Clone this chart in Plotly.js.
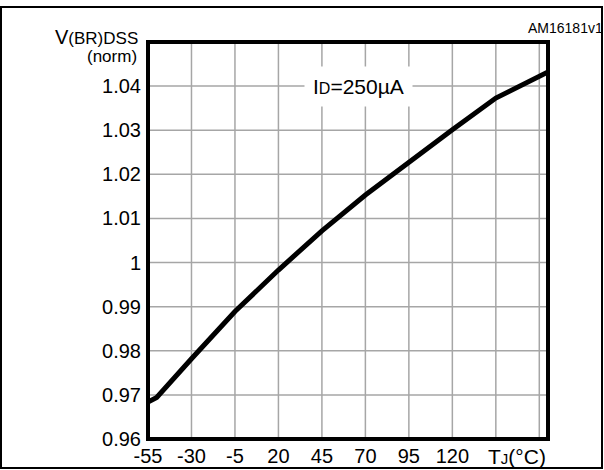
<!DOCTYPE html>
<html>
<head>
<meta charset="utf-8">
<script src="https://cdn.plot.ly/plotly-3.0.1.min.js"></script>
<style>
html,body{margin:0;padding:0;background:#fff;}
#chart{width:604px;height:470px;}
</style>
</head>
<body>
<div id="chart"></div>
<script>
// Data
var tempC = [-55, -50, -30, -5, 20, 45, 70, 95, 120, 145, 175];
var vbrNorm = [0.9684, 0.9694, 0.9782, 0.9889, 0.9983, 1.0072, 1.0153, 1.0228, 1.0301, 1.0373, 1.0432];
var xTickVals = [-55, -30, -5, 20, 45, 70, 95, 120];
var xTickText = ["-55", "-30", "-5", "20", "45", "70", "95", "120"];
var yTickVals = [0.96, 0.97, 0.98, 0.99, 1.00, 1.01, 1.02, 1.03, 1.04];
var yTickText = ["0.96", "0.97", "0.98", "0.99", "1", "1.01", "1.02", "1.03", "1.04"];
var xGrid = [-55, -30, -5, 20, 45, 70, 95, 120, 145, 170];
var yGrid = [0.96, 0.97, 0.98, 0.99, 1.00, 1.01, 1.02, 1.03, 1.04, 1.05];

var FONT = "Liberation Sans, Arial, Helvetica, sans-serif";
var L = 148, R = 548, T = 42, B = 439, W = 604, H = 470;
function px(p){ return (p - L) / (R - L); }
function py(p){ return (B - p) / (B - T); }

var shapes = [];
xGrid.forEach(function(v){
  shapes.push({type:'line', xref:'x', yref:'paper', x0:v, x1:v, y0:0, y1:1,
    line:{color:'#a6a6a6', width:1.5}, layer:'below'});
});
yGrid.forEach(function(v){
  shapes.push({type:'line', xref:'paper', yref:'y', x0:0, x1:1, y0:v, y1:v,
    line:{color:'#a6a6a6', width:1.5}, layer:'below'});
});
// plot frame
shapes.push({type:'rect', xref:'paper', yref:'paper', x0:0, x1:1, y0:0, y1:1,
  line:{color:'#000', width:4}, fillcolor:'rgba(0,0,0,0)'});
// outer figure frame
shapes.push({type:'rect', xref:'paper', yref:'paper', x0:px(1), x1:px(602), y0:py(468), y1:py(7),
  line:{color:'#000', width:2}, fillcolor:'rgba(0,0,0,0)'});

var trace = {
  x: tempC, y: vbrNorm, type:'scatter', mode:'lines',
  line:{color:'#000', width:5},
  hoverinfo:'skip'
};

var layout = {
  width: W, height: H,
  margin:{l:L, r:W-R, t:T, b:H-B, pad:0},
  paper_bgcolor:'#fff', plot_bgcolor:'#fff',
  showlegend:false,
  font:{family:FONT, color:'#000', size:20},
  xaxis:{range:[-55, 175], tickvals:xTickVals, ticktext:xTickText, showgrid:false,
    zeroline:false, showline:false, ticks:'', ticklabelstandoff:3,
    tickfont:{family:FONT, size:20, color:'#000'}, fixedrange:true},
  yaxis:{range:[0.96, 1.05], tickvals:yTickVals, ticktext:yTickText, showgrid:false,
    zeroline:false, showline:false, ticks:'outside', ticklen:2, tickcolor:'rgba(0,0,0,0)',
    tickfont:{family:FONT, size:20, color:'#000'}, fixedrange:true},
  shapes: shapes,
  annotations:[
    {xref:'paper', yref:'paper', x:px(140), y:py(37), xanchor:'right', yanchor:'middle',
     text:'V<span style="font-size:17px">(BR)DSS</span>', showarrow:false,
     font:{family:FONT, size:20, color:'#000'}},
    {xref:'paper', yref:'paper', x:px(139), y:py(56), xanchor:'right', yanchor:'middle',
     text:'(norm)', showarrow:false, font:{family:FONT, size:17, color:'#000'}},
    {xref:'paper', yref:'paper', x:px(605), y:py(28), xanchor:'right', yanchor:'middle',
     text:'AM16181v1', showarrow:false, font:{family:FONT, size:14, color:'#000'}},
    {xref:'paper', yref:'paper', x:px(517), y:py(456), xanchor:'center', yanchor:'middle',
     text:'T<span style="font-size:15px">J</span>(°C)', showarrow:false,
     font:{family:FONT, size:21, color:'#000'}},
    {xref:'x', yref:'y', x:66, y:1.04, xanchor:'center', yanchor:'middle',
     text:'I<span style="font-size:16px">D</span>=250µA', showarrow:false,
     bgcolor:'#fff', borderpad:8, font:{family:FONT, size:21, color:'#000'}}
  ]
};

Plotly.newPlot('chart', [trace], layout, {displayModeBar:false, staticPlot:true});
</script>
</body>
</html>
